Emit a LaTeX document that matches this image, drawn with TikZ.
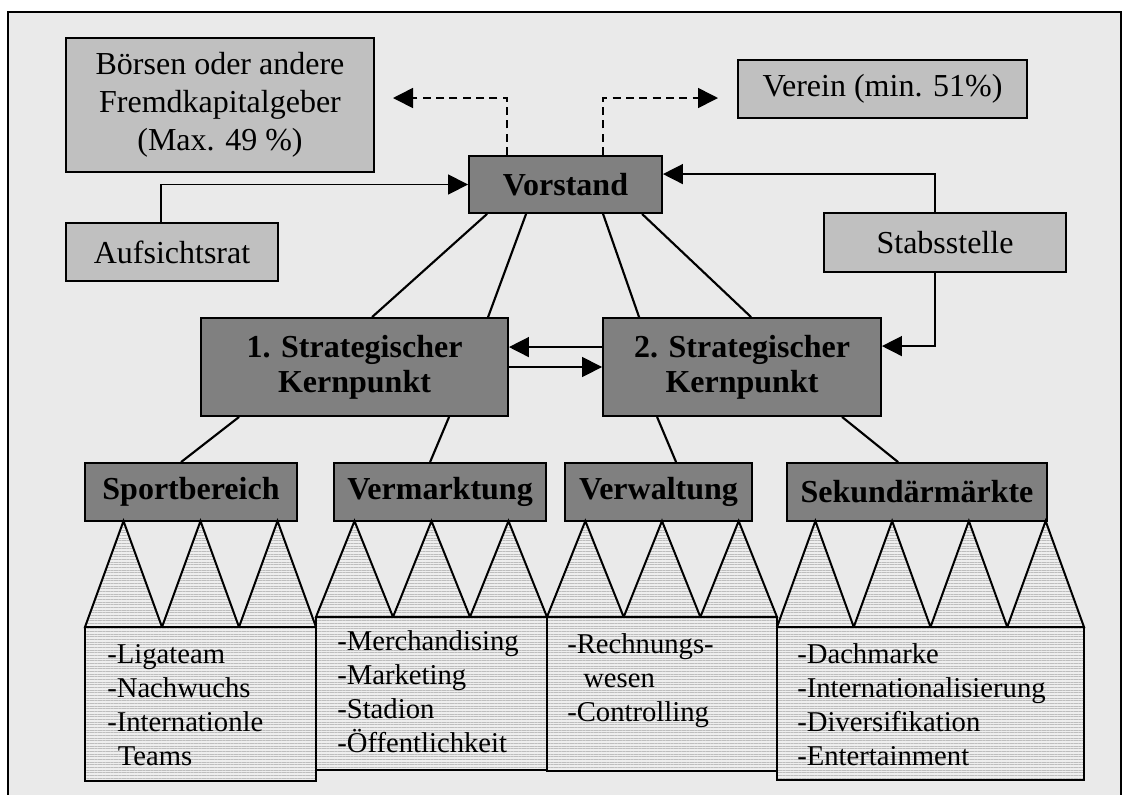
\documentclass[tikz,border=0pt]{standalone}
\usepackage{fontspec}
\setmainfont{Liberation Serif}
\usetikzlibrary{arrows.meta,calc,patterns.meta}

\definecolor{bggray}{HTML}{EAEAEA}
\definecolor{darkbox}{HTML}{808080}
\definecolor{lightbox}{HTML}{C0C0C0}
\definecolor{hatchbg}{HTML}{EEEEEE}
\definecolor{hatch}{HTML}{BDBDBD}

\tikzset{
  box/.style={draw=black, line width=1.4pt, inner sep=0pt, text=black},
  head/.style={box, fill=darkbox, align=center,
    font=\fontsize{24}{26.5}\selectfont\bfseries},
  side/.style={box, fill=lightbox, align=center,
    font=\fontsize{24}{28.5}\selectfont},
  hatched/.style={draw=black, line width=1.5pt, line join=miter,
    preaction={fill=hatchbg},
    pattern={Lines[angle=0,distance=2pt,line width=0.55pt]}, pattern color=hatch},
  listbox/.style={hatched, inner sep=0pt},
  listtext/.style={inner sep=0pt, anchor=base west, align=left,
    font=\fontsize{21.5}{25.5}\selectfont},
  link/.style={line width=1.6pt},
  thinlink/.style={line width=1.1pt},
  arr/.style={-{Triangle[length=15pt,width=15pt]}},
  dashlink/.style={line width=1.2pt, dash pattern=on 6pt off 4pt}
}

\begin{document}
\begin{tikzpicture}[x=0.75pt,y=-0.75pt]
  \useasboundingbox (0,0) rectangle (1123,794);
  \clip (0,0) rectangle (1123,794);
  \fill[white] (0,0) rectangle (1123,794);
  % outer frame
  \draw[line width=1.5pt, fill=bggray] (8,12) rectangle (1121,810);

  % top level
  \node[side, minimum width=231pt, minimum height=100.5pt] (boersen) at (220,105)
    {Börsen oder andere\\Fremdkapitalgeber\\(Max. 49 \%)};
  \node[side, minimum width=159pt, minimum height=43.5pt] (aufsicht) at (172,252) {Aufsichtsrat};
  \node[head, minimum width=144.75pt, minimum height=42.75pt] (vorstand) at (565.5,184.5) {Vorstand};
  \node[side, minimum width=216.75pt, minimum height=43.5pt] (verein) at (882.5,89) {Verein (min. 51\%)};
  \node[side, minimum width=181.5pt, minimum height=44.25pt] (stabs) at (945,242.5) {Stabsstelle};

  % strategic core points
  \node[head, minimum width=230.25pt, minimum height=73.5pt] (s1) at (354.5,367) {1. Strategischer\\Kernpunkt};
  \node[head, minimum width=208.5pt, minimum height=73.5pt] (s2) at (742,367) {2. Strategischer\\Kernpunkt};

  % divisions
  \node[head, minimum width=159pt, minimum height=43.5pt] (sport) at (191,492) {Sportbereich};
  \node[head, minimum width=159pt, minimum height=43.5pt] (verm) at (440,492) {Vermarktung};
  \node[head, minimum width=140.25pt, minimum height=43.5pt] (verw) at (658.5,492) {Verwaltung};
  \node[head, minimum width=195pt, minimum height=43.5pt] (sek) at (917,492) {Sekundärmärkte};

  % dashed ownership arrows
  \coordinate (ownleft) at (393,98);
  \coordinate (ownright) at (718,98);
  \draw[dashlink, arr] ($(vorstand.north west)+(39,0)$) |- (ownleft);
  \draw[dashlink, arr] ($(vorstand.north west)+(135,0)$) |- (ownright);

  % supervisory board and staff unit
  \draw[thinlink, arr] ($(aufsicht.north west)+(96,0)$) |- (vorstand.west);
  \draw[thinlink, arr] ($(stabs.north west)+(112,0)$) |- ($(vorstand.north east)+(0,19)$);
  \draw[thinlink, arr] ($(stabs.south west)+(112,0)$) |- ($(s2.north east)+(0,29)$);

  % board to core points
  \draw[link] ($(vorstand.south west)+(19,0)$) -- ($(s1.north west)+(172,0)$);
  \draw[link] ($(vorstand.south west)+(58,0)$) -- ($(s1.north west)+(288,0)$);
  \draw[link] ($(vorstand.south west)+(135,0)$) -- ($(s2.north west)+(37,0)$);
  \draw[link] ($(vorstand.south west)+(174,0)$) -- ($(s2.north west)+(149,0)$);

  % exchange between core points
  \draw[thinlink, arr] ($(s2.north west)+(0,30)$) -- ($(s1.north east)+(0,30)$);
  \draw[thinlink, arr] (s1.east) -- (s2.west);

  % core points to divisions
  \draw[link] ($(s1.south west)+(39,0)$) -- ($(sport.north west)+(97,0)$);
  \draw[link] ($(s1.south west)+(249,0)$) -- ($(verm.north west)+(97,0)$);
  \draw[link] ($(s2.south west)+(55,0)$) -- ($(verw.north west)+(112,0)$);
  \draw[link] ($(s2.south west)+(240,0)$) -- ($(sek.north west)+(112,0)$);

  % zigzag roofs under each division
  \path[hatched] (85,627) \foreach \i in {1,2,3} {-- ({85+(\i-0.5)*77},521) -- ({85+\i*77},627)} -- cycle;
  \path[hatched] (316,617) \foreach \i in {1,2,3} {-- ({316+(\i-0.5)*77},521) -- ({316+\i*77},617)} -- cycle;
  \path[hatched] (547,617) \foreach \i in {1,2,3} {-- ({547+(\i-0.5)*76.667},521) -- ({547+\i*76.667},617)} -- cycle;
  \path[hatched] (777,627) \foreach \i in {1,2,3,4} {-- ({777+(\i-0.5)*76.75},521) -- ({777+\i*76.75},627)} -- cycle;

  % task lists
  \node[listbox, minimum width=173.25pt, minimum height=115.5pt] (sportlist) at (200.5,704) {};
  \node[listbox, minimum width=173.25pt, minimum height=114.75pt] (vermlist) at (431.5,693.5) {};
  \node[listbox, minimum width=172.5pt, minimum height=115.5pt] (verwlist) at (662,694) {};
  \node[listbox, minimum width=230.25pt, minimum height=114.75pt] (seklist) at (930.5,703.5) {};

  % list texts, placed by the baseline of their last line
  \node[listtext] (sporttext) at (107,765)
    {-Ligateam\\-Nachwuchs\\-Internationle\\\hspace*{8pt}Teams};
  \node[listtext] (vermtext) at (337,752)
    {-Merchandising\\-Marketing\\-Stadion\\-Öffentlichkeit};
  \node[listtext] (verwtext) at (567,721)
    {-Rechnungs-\\\hspace*{12pt}wesen\\-Controlling};
  \node[listtext] (sektext) at (797,765)
    {-Dachmarke\\-Internationalisierung\\-Diversifikation\\-Entertainment};
\end{tikzpicture}
\end{document}
